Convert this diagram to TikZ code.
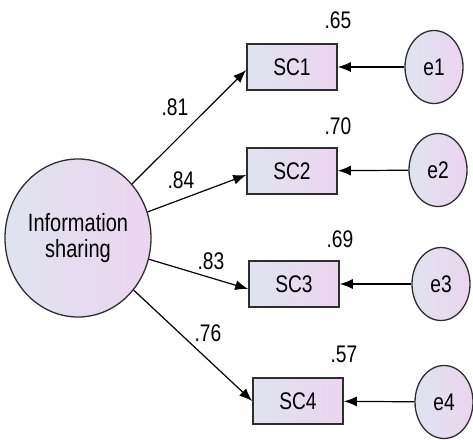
\documentclass[tikz,border=0pt]{standalone}
\usepackage{fontspec}
\setmainfont{Liberation Sans}[FakeStretch=0.8]
\usetikzlibrary{arrows.meta,shapes.geometric}
\definecolor{fillA}{HTML}{DFE4EF}
\definecolor{fillB}{HTML}{EBD5EF}
\definecolor{edgecol}{HTML}{2E2E2E}
\tikzset{
  obs/.style={draw=edgecol, line width=1.6pt, minimum width=90pt, minimum height=46pt,
    inner sep=0pt, left color=fillA, right color=fillB, font=\fontsize{24}{24}\selectfont},
  err/.style={ellipse, draw=edgecol, line width=1.3pt, minimum width=58pt, minimum height=73pt,
    inner sep=0pt, shading=axis, shading angle=135, left color=fillA, right color=fillB,
    font=\fontsize{24}{24}\selectfont},
  latent/.style={ellipse, draw=edgecol, line width=1.3pt, minimum width=146pt, minimum height=158pt,
    inner sep=0pt, shading=axis, shading angle=135, left color=fillA, right color=fillB,
    align=center, font=\fontsize{25}{26}\selectfont},
  path/.style={line width=1.2pt, draw=black, -{Latex[length=13pt,width=10pt]}},
  wt/.style={font=\fontsize{24}{24}\selectfont, inner sep=0pt}
}
\begin{document}
\begin{tikzpicture}[x=1pt,y=-1pt]
\useasboundingbox (0,0) rectangle (473,439);

% latent factor
\node[latent] (IS) at (78,238) {Information\\sharing};

% indicators
\node[obs] (SC1) at (292,67) {SC1};
\node[obs] (SC2) at (292,171) {SC2};
\node[obs] (SC3) at (294,284) {SC3};
\node[obs] (SC4) at (298,401) {SC4};

% error terms
\node[err] (e1) at (434,67) {e1};
\node[err] (e2) at (438,170) {e2};
\node[err] (e3) at (441,284) {e3};
\node[err] (e4) at (444,402) {e4};

% loadings
\draw[path] (IS) -- ([yshift=-3pt]SC1.west);
\draw[path] (IS) -- ([yshift=-4pt]SC2.west);
\draw[path] (IS) -- ([yshift=-5pt]SC3.west);
\draw[path] (IS) -- (SC4.west);

% residual paths
\draw[path] (e1) -- (SC1);
\draw[path] (e2) -- (SC2);
\draw[path] (e3) -- (SC3);
\draw[path] (e4) -- (SC4);

% standardized loadings
\node[wt] (l1) at (175,107) {.81};
\node[wt] (l2) at (181,180) {.84};
\node[wt] (l3) at (211,261) {.83};
\node[wt] (l4) at (208,333) {.76};

% squared multiple correlations
\node[wt] (r1) at (338,20) {.65};
\node[wt] (r2) at (338,126) {.70};
\node[wt] (r3) at (340,239) {.69};
\node[wt] (r4) at (344,354) {.57};
\end{tikzpicture}
\end{document}
